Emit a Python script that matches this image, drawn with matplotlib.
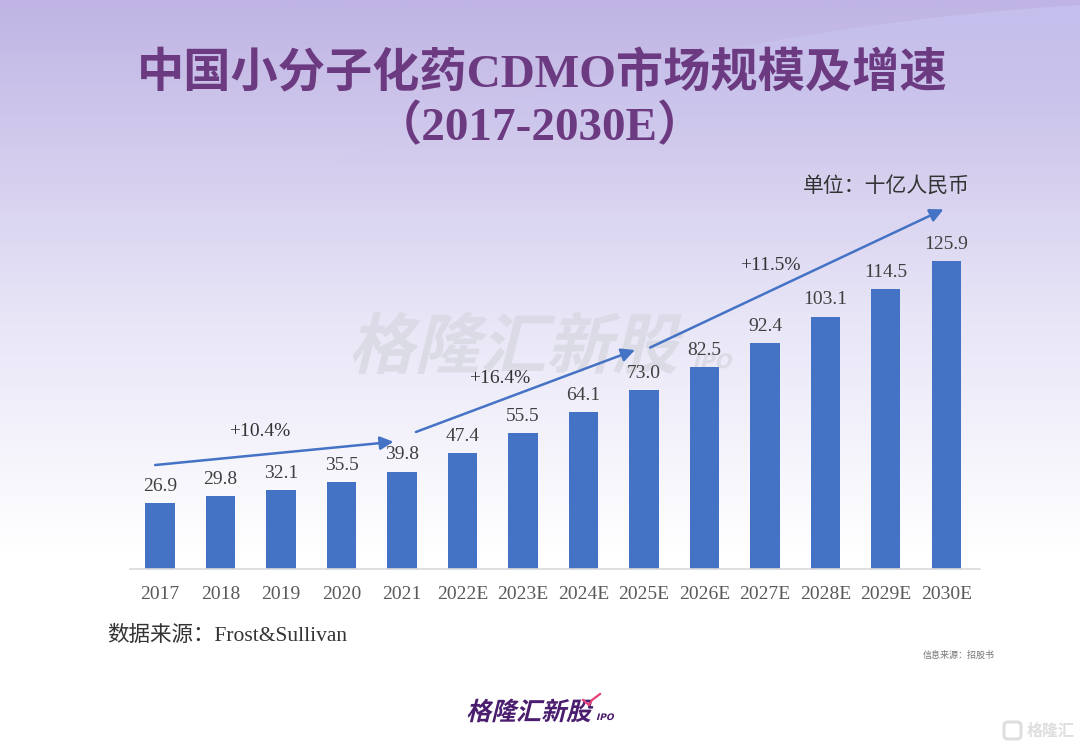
import numpy as np
import matplotlib.pyplot as plt
from matplotlib.textpath import TextPath
from matplotlib.patches import PathPatch, Ellipse, FancyBboxPatch
from matplotlib.font_manager import FontProperties
from matplotlib.transforms import Affine2D

years = ["2017", "2018", "2019", "2020", "2021", "2022E", "2023E",
         "2024E", "2025E", "2026E", "2027E", "2028E", "2029E", "2030E"]
market = [26.9, 29.8, 32.1, 35.5, 39.8, 47.4, 55.5,
          64.1, 73.0, 82.5, 92.4, 103.1, 114.5, 125.9]
cagr_labels = ["+10.4%", "+16.4%", "+11.5%"]
# arrow start/end as (bar index, value) plus label anchor
cagr_arrows = [((-0.08, 42.5), (3.86, 52.0)),
               ((4.23, 56.0), (7.85, 89.5)),
               ((8.1, 90.5), (12.95, 147.0))]
cagr_text_pos = [(1.65, 56.0), (5.62, 78.0), (10.08, 124.0)]

W, H = 1080, 749
SERIF_CJK = ["Liberation Serif", "Noto Sans CJK SC"]
BLUE = "#4472c4"
PURPLE = "#6b3a80"

fig = plt.figure(figsize=(W / 100, H / 100), dpi=100)

# ---- background: lavender gradient + bluish swoosh, in pixel coords
bg = fig.add_axes([0, 0, 1, 1], zorder=0)
bg.set_xlim(0, W); bg.set_ylim(0, H); bg.axis("off")
yy = np.linspace(0, 1, 400)[:, None]          # 0 = top of picture
top = np.array([191, 180, 228]) / 255
mid = np.array([232, 229, 247]) / 255
t1 = np.clip(yy / 0.42, 0, 1)
t2 = np.clip((yy - 0.42) / 0.32, 0, 1)
col = top * (1 - t1[..., None]) + mid * t1[..., None]
col = col * (1 - t2[..., None]) + np.ones(3) * t2[..., None]
bg.imshow(np.repeat(col, 2, axis=1), extent=[0, W, 0, H], aspect="auto",
          origin="upper", zorder=0)

# swoosh: bluish tint inside a big ellipse, fading out downwards
ell = Ellipse((1250, H - 900), 3192, 1800, facecolor="none", edgecolor="none")
bg.add_patch(ell)
fade = np.clip(1 - yy / 0.22, 0, 1) * 0.55
tint = np.dstack([np.ones((400, 2)) * 0.79, np.ones((400, 2)) * 0.79,
                  np.ones((400, 2)) * 0.96, np.repeat(fade, 2, axis=1)])
im = bg.imshow(tint, extent=[0, W, 0, H], aspect="auto", origin="upper", zorder=1)
im.set_clip_path(ell)


def skew_text(ax, s, x, y_base, size, color, weight="bold", family="Noto Sans CJK SC", alpha=1.0, z=3):
    fp = FontProperties(family=family, weight=weight)
    p = TextPath((0, 0), s, size=size, prop=fp)
    tr = Affine2D().skew_deg(14, 0).translate(x, H - y_base)
    ax.add_patch(PathPatch(tr.transform_path(p), facecolor=color, edgecolor="none",
                           alpha=alpha, zorder=z))


# watermark behind the chart
skew_text(bg, "格隆汇新股", 348, 368, 66, "#d9d9e3", alpha=0.85)
skew_text(bg, "IPO", 692, 368, 20, "#d9d9e3", family="DejaVu Sans", alpha=0.85)

# ---- bar chart
ax = fig.add_axes([129.75 / W, (H - 569) / H, 850 / W, 389 / H], zorder=1)
ax.patch.set_alpha(0)
x = np.arange(len(years))
ax.bar(x, market, width=0.48, color=BLUE, zorder=2)
for xi, v in zip(x, market):
    ax.annotate(f"{v:.1f}", (xi, v), xytext=(0, 6), textcoords="offset points",
                ha="center", va="bottom", fontsize=14, color="#404040",
                family=SERIF_CJK)
for (p0, p1), lab, tp in zip(cagr_arrows, cagr_labels, cagr_text_pos):
    ax.annotate("", xy=p1, xytext=p0,
                arrowprops=dict(arrowstyle="-|>", color=BLUE, lw=1.8,
                                mutation_scale=20, shrinkA=0, shrinkB=0), zorder=3)
    ax.text(tp[0], tp[1], lab, ha="center", va="center", fontsize=14,
            color="#333333", family=SERIF_CJK)

ax.set_xlim(-0.5, 13.55)
ax.set_ylim(0, 159)
ax.set_xticks(x)
ax.set_xticklabels(years, fontsize=14, color="#595959", family=SERIF_CJK)
ax.tick_params(axis="x", length=0, pad=12)
ax.set_yticks([])
for s in ("left", "right", "top"):
    ax.spines[s].set_visible(False)
ax.spines["bottom"].set_color("#d9d9d9")
ax.spines["bottom"].set_linewidth(1.2)

# ---- texts in pixel coords
def ftext(px, py, s, **kw):
    fig.text(px / W, 1 - py / H, s, **kw)

ftext(542, 75, "中国小分子化药CDMO市场规模及增速", ha="center", va="center",
      fontsize=34, color=PURPLE, weight="bold", family=SERIF_CJK)
ftext(540, 128, "（2017-2030E）", ha="center", va="center",
      fontsize=34, color=PURPLE, weight="bold", family=SERIF_CJK)
ftext(970, 187, "单位：十亿人民币", ha="right", va="center",
      fontsize=15, color="#333333", family=SERIF_CJK)
ftext(107, 636, "数据来源：Frost&Sullivan", ha="left", va="center",
      fontsize=15.5, color="#333333", family=SERIF_CJK)
ftext(995, 655, "信息来源：招股书", ha="right", va="center",
      fontsize=6.5, color="#777777", family=SERIF_CJK)

# bottom logo
skew_text(bg, "格隆汇新股", 466, 720, 25, "#4b1d6e", z=5)
skew_text(bg, "IPO", 596, 720, 9, "#4b1d6e", family="DejaVu Sans", z=5)
bg.plot([583, 589, 592, 600], [H - 700, H - 705, H - 700, H - 694], color="#e8407a", lw=1.6, zorder=6)

# bottom-right mark
bg.add_patch(FancyBboxPatch((1004, H - 739), 17, 17, boxstyle="round,pad=0,rounding_size=4",
                            facecolor="none", edgecolor="#dedede", lw=2.2, zorder=5))
ftext(1027, 731, "格隆汇", ha="left", va="center", fontsize=11.5, color="#dedede",
      family="Noto Sans CJK SC", weight="bold")

fig.savefig("out.png", dpi=100)
